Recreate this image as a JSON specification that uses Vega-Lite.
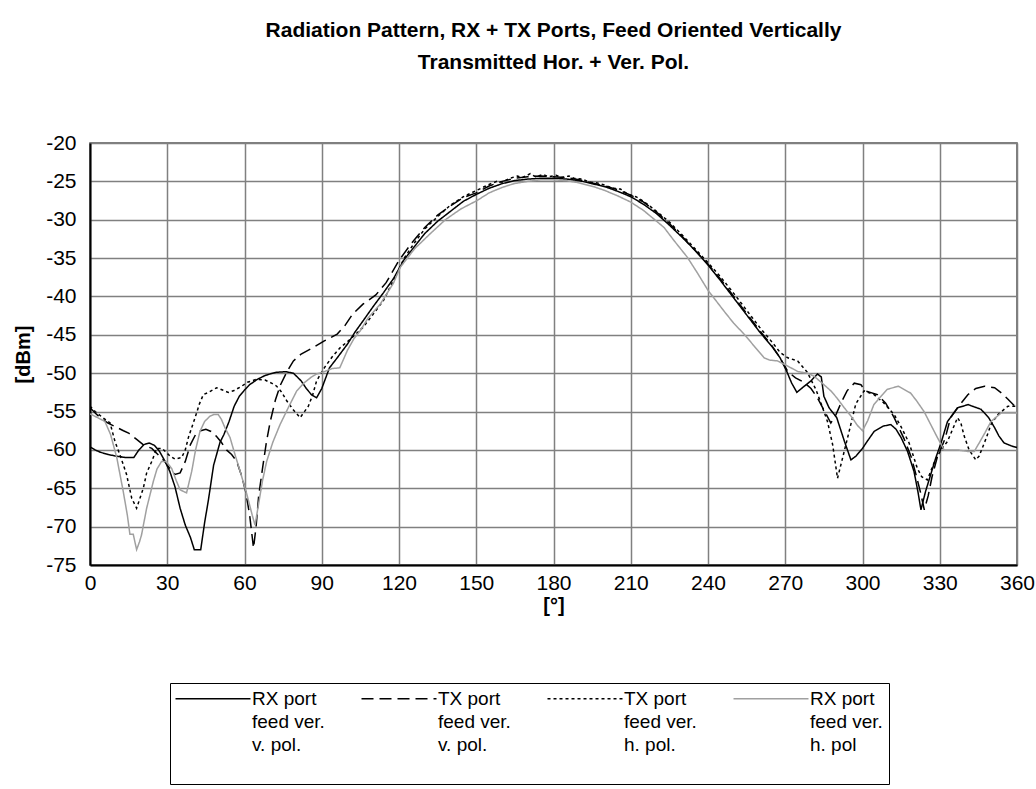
{
  "$schema": "https://vega.github.io/schema/vega-lite/v6.json",
  "width": 927,
  "height": 422,
  "autosize": "none",
  "padding": {"left": 90, "top": 143, "right": 19, "bottom": 224},
  "background": "white",
  "config": {
    "font": "Liberation Sans",
    "view": {"stroke": "#555555", "strokeWidth": 1.5},
    "style": {"guide-label": {"lineHeight": 23}},
    "legend": {
      "orient": "none", "legendX": 80, "legendY": 540, "direction": "horizontal", "columns": 4,
      "title": null, "symbolType": "M-2,0H13", "symbolSize": 100,
      "labelFont": "Liberation Sans", "labelFontSize": 19, "labelColor": "black", "labelLimit": 300,
      "labelOffset": 57, "labelBaseline": "middle",
      "strokeColor": "black", "padding": 6, "columnPadding": 33
    }
  },
  "title": {
    "text": ["Radiation Pattern, RX + TX Ports, Feed Oriented Vertically", "Transmitted Hor. + Ver. Pol."],
    "anchor": "middle",
    "font": "Liberation Sans",
    "fontSize": 21,
    "fontWeight": "bold",
    "color": "black",
    "lineHeight": 32,
    "offset": 59
  },
  "data": {"values": [
{"s":"A","a":0,"v":-59.6},{"s":"A","a":2,"v":-60.0},{"s":"A","a":4,"v":-60.3},{"s":"A","a":7,"v":-60.6},{"s":"A","a":10,"v":-60.8},{"s":"A","a":14,"v":-61.0},{"s":"A","a":17,"v":-61.0},{"s":"A","a":19,"v":-60.0},{"s":"A","a":21,"v":-59.3},{"s":"A","a":23,"v":-59.1},{"s":"A","a":25,"v":-59.4},{"s":"A","a":27,"v":-60.2},{"s":"A","a":29,"v":-61.4},{"s":"A","a":31,"v":-62.8},{"s":"A","a":33,"v":-64.8},{"s":"A","a":35,"v":-67.6},{"s":"A","a":37,"v":-69.8},{"s":"A","a":39,"v":-71.4},{"s":"A","a":40.5,"v":-73.0},{"s":"A","a":43,"v":-73.0},{"s":"A","a":44.5,"v":-69.5},{"s":"A","a":46,"v":-66.5},{"s":"A","a":48,"v":-62.0},{"s":"A","a":50.5,"v":-59.0},{"s":"A","a":52,"v":-58.0},{"s":"A","a":54,"v":-56.3},{"s":"A","a":56,"v":-54.3},{"s":"A","a":58,"v":-53.0},{"s":"A","a":60,"v":-52.2},{"s":"A","a":62,"v":-51.5},{"s":"A","a":65,"v":-50.8},{"s":"A","a":68,"v":-50.3},{"s":"A","a":72,"v":-49.9},{"s":"A","a":76,"v":-49.8},{"s":"A","a":79,"v":-50.0},{"s":"A","a":82,"v":-51.0},{"s":"A","a":84,"v":-52.0},{"s":"A","a":86,"v":-52.8},{"s":"A","a":88,"v":-53.2},{"s":"A","a":90,"v":-52.0},{"s":"A","a":93,"v":-49.3},{"s":"A","a":96,"v":-48.0},{"s":"A","a":100,"v":-46.2},{"s":"A","a":103,"v":-44.6},{"s":"A","a":106,"v":-43.2},{"s":"A","a":110,"v":-41.3},{"s":"A","a":114,"v":-39.5},{"s":"A","a":118,"v":-37.6},{"s":"A","a":122,"v":-35.2},{"s":"A","a":126,"v":-33.5},{"s":"A","a":130,"v":-31.8},{"s":"A","a":135,"v":-30.2},{"s":"A","a":140,"v":-28.9},{"s":"A","a":145,"v":-27.6},{"s":"A","a":150,"v":-26.7},{"s":"A","a":155,"v":-25.9},{"s":"A","a":160,"v":-25.3},{"s":"A","a":165,"v":-24.9},{"s":"A","a":170,"v":-24.7},{"s":"A","a":175,"v":-24.6},{"s":"A","a":180,"v":-24.6},{"s":"A","a":185,"v":-24.7},{"s":"A","a":190,"v":-24.9},{"s":"A","a":195,"v":-25.3},{"s":"A","a":200,"v":-25.7},{"s":"A","a":205,"v":-26.3},{"s":"A","a":210,"v":-27.0},{"s":"A","a":215,"v":-28.0},{"s":"A","a":220,"v":-29.2},{"s":"A","a":225,"v":-30.7},{"s":"A","a":230,"v":-32.3},{"s":"A","a":235,"v":-34.0},{"s":"A","a":240,"v":-35.9},{"s":"A","a":245,"v":-38.0},{"s":"A","a":250,"v":-40.2},{"s":"A","a":255,"v":-42.4},{"s":"A","a":260,"v":-44.6},{"s":"A","a":265,"v":-46.6},{"s":"A","a":268,"v":-48.0},{"s":"A","a":270.5,"v":-49.7},{"s":"A","a":272.5,"v":-51.3},{"s":"A","a":274.5,"v":-52.5},{"s":"A","a":277,"v":-51.8},{"s":"A","a":280,"v":-51.0},{"s":"A","a":282.5,"v":-50.1},{"s":"A","a":284,"v":-50.5},{"s":"A","a":285,"v":-53.0},{"s":"A","a":287,"v":-54.5},{"s":"A","a":290,"v":-55.8},{"s":"A","a":293,"v":-58.9},{"s":"A","a":295.5,"v":-61.3},{"s":"A","a":297.5,"v":-60.8},{"s":"A","a":300,"v":-59.8},{"s":"A","a":302,"v":-58.8},{"s":"A","a":304.5,"v":-57.6},{"s":"A","a":308,"v":-56.9},{"s":"A","a":311,"v":-56.7},{"s":"A","a":313,"v":-57.3},{"s":"A","a":315,"v":-58.4},{"s":"A","a":317.5,"v":-60.2},{"s":"A","a":320,"v":-62.8},{"s":"A","a":321.5,"v":-65.4},{"s":"A","a":322.7,"v":-67.8},{"s":"A","a":324.5,"v":-65.4},{"s":"A","a":326.5,"v":-63.2},{"s":"A","a":328.5,"v":-61.0},{"s":"A","a":330.5,"v":-59.1},{"s":"A","a":333,"v":-56.3},{"s":"A","a":337,"v":-54.5},{"s":"A","a":341,"v":-54.1},{"s":"A","a":346,"v":-54.7},{"s":"A","a":349,"v":-55.8},{"s":"A","a":351.3,"v":-57.1},{"s":"A","a":353,"v":-58.2},{"s":"A","a":355,"v":-59.1},{"s":"A","a":358,"v":-59.5},{"s":"A","a":360,"v":-59.7},
{"s":"B","a":0,"v":-54.5},{"s":"B","a":2,"v":-55.2},{"s":"B","a":4,"v":-55.8},{"s":"B","a":7,"v":-56.5},{"s":"B","a":10,"v":-57.0},{"s":"B","a":13,"v":-57.5},{"s":"B","a":15,"v":-57.8},{"s":"B","a":18,"v":-58.6},{"s":"B","a":21,"v":-59.4},{"s":"B","a":24,"v":-59.8},{"s":"B","a":27,"v":-60.8},{"s":"B","a":29,"v":-61.5},{"s":"B","a":31,"v":-62.4},{"s":"B","a":33,"v":-63.2},{"s":"B","a":35,"v":-63.0},{"s":"B","a":37,"v":-61.5},{"s":"B","a":39,"v":-59.3},{"s":"B","a":41,"v":-58.0},{"s":"B","a":43,"v":-57.5},{"s":"B","a":45,"v":-57.3},{"s":"B","a":47,"v":-57.6},{"s":"B","a":49,"v":-58.2},{"s":"B","a":51,"v":-59.0},{"s":"B","a":53,"v":-60.0},{"s":"B","a":55,"v":-60.6},{"s":"B","a":57,"v":-61.5},{"s":"B","a":59,"v":-63.5},{"s":"B","a":60.5,"v":-65.5},{"s":"B","a":62,"v":-68.5},{"s":"B","a":63.5,"v":-72.8},{"s":"B","a":64.5,"v":-70.0},{"s":"B","a":65.5,"v":-66.0},{"s":"B","a":67,"v":-62.4},{"s":"B","a":68.5,"v":-59.0},{"s":"B","a":70,"v":-56.3},{"s":"B","a":72,"v":-53.5},{"s":"B","a":74,"v":-51.5},{"s":"B","a":76.5,"v":-49.8},{"s":"B","a":79,"v":-48.4},{"s":"B","a":82,"v":-47.5},{"s":"B","a":86.5,"v":-46.7},{"s":"B","a":91,"v":-45.8},{"s":"B","a":96,"v":-44.9},{"s":"B","a":99,"v":-43.8},{"s":"B","a":102,"v":-42.3},{"s":"B","a":106,"v":-41.0},{"s":"B","a":111,"v":-39.8},{"s":"B","a":115,"v":-38.2},{"s":"B","a":120,"v":-35.3},{"s":"B","a":125,"v":-33.0},{"s":"B","a":130,"v":-31.0},{"s":"B","a":135,"v":-29.4},{"s":"B","a":140,"v":-28.2},{"s":"B","a":145,"v":-27.1},{"s":"B","a":150,"v":-26.5},{"s":"B","a":155,"v":-25.6},{"s":"B","a":160,"v":-25.0},{"s":"B","a":165,"v":-24.6},{"s":"B","a":170,"v":-24.4},{"s":"B","a":175,"v":-24.3},{"s":"B","a":180,"v":-24.4},{"s":"B","a":185,"v":-24.5},{"s":"B","a":190,"v":-24.8},{"s":"B","a":195,"v":-25.2},{"s":"B","a":200,"v":-25.6},{"s":"B","a":205,"v":-26.1},{"s":"B","a":210,"v":-26.8},{"s":"B","a":215,"v":-27.7},{"s":"B","a":220,"v":-29.0},{"s":"B","a":225,"v":-30.5},{"s":"B","a":230,"v":-32.2},{"s":"B","a":235,"v":-34.0},{"s":"B","a":240,"v":-35.8},{"s":"B","a":245,"v":-37.8},{"s":"B","a":250,"v":-40.0},{"s":"B","a":255,"v":-42.2},{"s":"B","a":260,"v":-44.4},{"s":"B","a":265,"v":-46.5},{"s":"B","a":268,"v":-48.0},{"s":"B","a":271,"v":-49.8},{"s":"B","a":274,"v":-50.6},{"s":"B","a":277.3,"v":-51.2},{"s":"B","a":280,"v":-52.0},{"s":"B","a":282.5,"v":-53.2},{"s":"B","a":285,"v":-54.8},{"s":"B","a":287.7,"v":-56.5},{"s":"B","a":289.7,"v":-55.4},{"s":"B","a":291.5,"v":-54.0},{"s":"B","a":294,"v":-52.3},{"s":"B","a":296.8,"v":-51.3},{"s":"B","a":299.4,"v":-51.5},{"s":"B","a":301,"v":-52.3},{"s":"B","a":303,"v":-52.5},{"s":"B","a":305.8,"v":-52.8},{"s":"B","a":309,"v":-53.9},{"s":"B","a":312.3,"v":-55.8},{"s":"B","a":316.2,"v":-58.6},{"s":"B","a":319,"v":-61.0},{"s":"B","a":321,"v":-63.5},{"s":"B","a":322.5,"v":-65.5},{"s":"B","a":324,"v":-67.8},{"s":"B","a":325.5,"v":-66.0},{"s":"B","a":327,"v":-63.5},{"s":"B","a":329,"v":-61.0},{"s":"B","a":332,"v":-58.6},{"s":"B","a":334.2,"v":-55.8},{"s":"B","a":336.9,"v":-54.5},{"s":"B","a":340.9,"v":-52.8},{"s":"B","a":344,"v":-52.0},{"s":"B","a":347.4,"v":-51.7},{"s":"B","a":351.3,"v":-51.9},{"s":"B","a":354,"v":-52.6},{"s":"B","a":356.5,"v":-53.4},{"s":"B","a":360,"v":-54.6},
{"s":"C","a":0,"v":-54.3},{"s":"C","a":2,"v":-55.0},{"s":"C","a":5,"v":-55.8},{"s":"C","a":7.8,"v":-56.5},{"s":"C","a":9.7,"v":-58.9},{"s":"C","a":12,"v":-61.0},{"s":"C","a":14.2,"v":-63.2},{"s":"C","a":16.2,"v":-66.3},{"s":"C","a":18.1,"v":-67.6},{"s":"C","a":20.7,"v":-65.0},{"s":"C","a":22,"v":-63.0},{"s":"C","a":24,"v":-61.5},{"s":"C","a":25.9,"v":-59.8},{"s":"C","a":28,"v":-59.8},{"s":"C","a":31.1,"v":-60.8},{"s":"C","a":33,"v":-61.2},{"s":"C","a":35.6,"v":-61.0},{"s":"C","a":37,"v":-60.0},{"s":"C","a":38.2,"v":-58.4},{"s":"C","a":40.8,"v":-55.8},{"s":"C","a":42.5,"v":-54.0},{"s":"C","a":44,"v":-52.8},{"s":"C","a":46,"v":-52.5},{"s":"C","a":49.2,"v":-51.9},{"s":"C","a":51.5,"v":-52.2},{"s":"C","a":53.7,"v":-52.5},{"s":"C","a":55.7,"v":-52.3},{"s":"C","a":58.9,"v":-51.7},{"s":"C","a":61,"v":-51.2},{"s":"C","a":64.7,"v":-50.8},{"s":"C","a":68,"v":-50.9},{"s":"C","a":70.5,"v":-51.3},{"s":"C","a":72.5,"v":-51.7},{"s":"C","a":74.5,"v":-52.5},{"s":"C","a":76.4,"v":-53.6},{"s":"C","a":79,"v":-54.8},{"s":"C","a":81.6,"v":-55.8},{"s":"C","a":84.8,"v":-54.3},{"s":"C","a":86.5,"v":-52.8},{"s":"C","a":88,"v":-51.0},{"s":"C","a":91,"v":-49.3},{"s":"C","a":94,"v":-47.9},{"s":"C","a":97.1,"v":-46.7},{"s":"C","a":101,"v":-45.6},{"s":"C","a":106.1,"v":-44.0},{"s":"C","a":110,"v":-42.3},{"s":"C","a":114,"v":-40.5},{"s":"C","a":118,"v":-37.8},{"s":"C","a":122,"v":-35.0},{"s":"C","a":126,"v":-33.0},{"s":"C","a":130,"v":-31.2},{"s":"C","a":135,"v":-29.6},{"s":"C","a":140,"v":-28.1},{"s":"C","a":145,"v":-27.0},{"s":"C","a":150,"v":-26.2},{"s":"C","a":155,"v":-25.4},{"s":"C","a":158,"v":-25.0},{"s":"C","a":160,"v":-25.1},{"s":"C","a":163,"v":-24.6},{"s":"C","a":166,"v":-24.3},{"s":"C","a":168,"v":-24.5},{"s":"C","a":171,"v":-24.0},{"s":"C","a":173,"v":-24.4},{"s":"C","a":176,"v":-24.1},{"s":"C","a":178,"v":-24.4},{"s":"C","a":181,"v":-24.2},{"s":"C","a":183,"v":-24.5},{"s":"C","a":186,"v":-24.3},{"s":"C","a":188,"v":-24.6},{"s":"C","a":191,"v":-24.7},{"s":"C","a":194,"v":-25.1},{"s":"C","a":197,"v":-25.2},{"s":"C","a":200,"v":-25.5},{"s":"C","a":203,"v":-25.9},{"s":"C","a":206,"v":-26.0},{"s":"C","a":209,"v":-26.7},{"s":"C","a":212,"v":-27.0},{"s":"C","a":215,"v":-27.6},{"s":"C","a":220,"v":-28.9},{"s":"C","a":225,"v":-30.3},{"s":"C","a":230,"v":-32.0},{"s":"C","a":235,"v":-33.8},{"s":"C","a":240,"v":-35.6},{"s":"C","a":245,"v":-37.5},{"s":"C","a":250,"v":-39.6},{"s":"C","a":255,"v":-41.8},{"s":"C","a":260,"v":-44.0},{"s":"C","a":265,"v":-46.0},{"s":"C","a":268,"v":-47.3},{"s":"C","a":271,"v":-48.0},{"s":"C","a":274.8,"v":-48.4},{"s":"C","a":278.6,"v":-49.9},{"s":"C","a":282,"v":-52.2},{"s":"C","a":284.5,"v":-54.5},{"s":"C","a":286.4,"v":-56.3},{"s":"C","a":288.4,"v":-59.3},{"s":"C","a":290.3,"v":-63.7},{"s":"C","a":292.3,"v":-61.0},{"s":"C","a":294.8,"v":-57.6},{"s":"C","a":297.4,"v":-54.0},{"s":"C","a":300.6,"v":-52.3},{"s":"C","a":304.5,"v":-52.8},{"s":"C","a":308,"v":-53.8},{"s":"C","a":312.3,"v":-55.4},{"s":"C","a":315,"v":-57.0},{"s":"C","a":318.1,"v":-59.1},{"s":"C","a":321.3,"v":-62.4},{"s":"C","a":323,"v":-63.5},{"s":"C","a":325.2,"v":-63.9},{"s":"C","a":328,"v":-61.5},{"s":"C","a":330.5,"v":-60.0},{"s":"C","a":333,"v":-58.9},{"s":"C","a":336.9,"v":-55.8},{"s":"C","a":338.2,"v":-56.5},{"s":"C","a":339.5,"v":-58.2},{"s":"C","a":341.4,"v":-60.0},{"s":"C","a":344,"v":-61.3},{"s":"C","a":345.3,"v":-60.8},{"s":"C","a":348,"v":-58.5},{"s":"C","a":350,"v":-56.6},{"s":"C","a":352.6,"v":-55.4},{"s":"C","a":356.5,"v":-54.3},{"s":"C","a":360,"v":-54.3},
{"s":"D","a":0,"v":-55.3},{"s":"D","a":3,"v":-55.8},{"s":"D","a":5.8,"v":-56.3},{"s":"D","a":8,"v":-58.0},{"s":"D","a":10.4,"v":-61.0},{"s":"D","a":12.9,"v":-65.4},{"s":"D","a":14.5,"v":-68.5},{"s":"D","a":15.5,"v":-71.0},{"s":"D","a":16.8,"v":-71.0},{"s":"D","a":18.1,"v":-73.0},{"s":"D","a":19.2,"v":-72.0},{"s":"D","a":20,"v":-71.1},{"s":"D","a":22,"v":-67.6},{"s":"D","a":24.6,"v":-64.1},{"s":"D","a":26,"v":-62.5},{"s":"D","a":27.8,"v":-61.5},{"s":"D","a":29.5,"v":-61.5},{"s":"D","a":31.7,"v":-62.4},{"s":"D","a":33.5,"v":-64.0},{"s":"D","a":35,"v":-65.2},{"s":"D","a":37.5,"v":-65.6},{"s":"D","a":39.5,"v":-62.8},{"s":"D","a":41,"v":-60.0},{"s":"D","a":42.7,"v":-57.6},{"s":"D","a":44.5,"v":-56.3},{"s":"D","a":46.6,"v":-55.6},{"s":"D","a":48,"v":-55.4},{"s":"D","a":49.8,"v":-55.4},{"s":"D","a":51,"v":-56.0},{"s":"D","a":52.4,"v":-57.1},{"s":"D","a":54.4,"v":-58.4},{"s":"D","a":56.3,"v":-60.6},{"s":"D","a":58.5,"v":-63.0},{"s":"D","a":61,"v":-65.9},{"s":"D","a":63,"v":-68.5},{"s":"D","a":64.1,"v":-69.8},{"s":"D","a":65.5,"v":-67.0},{"s":"D","a":67,"v":-64.0},{"s":"D","a":68.6,"v":-61.5},{"s":"D","a":71,"v":-59.0},{"s":"D","a":73.8,"v":-56.7},{"s":"D","a":77,"v":-54.5},{"s":"D","a":80.3,"v":-52.3},{"s":"D","a":83,"v":-51.3},{"s":"D","a":86,"v":-50.5},{"s":"D","a":88,"v":-50.1},{"s":"D","a":91,"v":-49.8},{"s":"D","a":94,"v":-49.4},{"s":"D","a":97,"v":-49.3},{"s":"D","a":100,"v":-47.0},{"s":"D","a":102.5,"v":-45.5},{"s":"D","a":104.9,"v":-44.5},{"s":"D","a":108,"v":-42.8},{"s":"D","a":112.7,"v":-41.0},{"s":"D","a":117.8,"v":-38.3},{"s":"D","a":120.5,"v":-36.2},{"s":"D","a":126,"v":-33.8},{"s":"D","a":132.2,"v":-31.8},{"s":"D","a":138,"v":-30.0},{"s":"D","a":144,"v":-28.6},{"s":"D","a":150.3,"v":-27.5},{"s":"D","a":155,"v":-26.5},{"s":"D","a":160,"v":-25.8},{"s":"D","a":164.6,"v":-25.3},{"s":"D","a":170,"v":-25.0},{"s":"D","a":175,"v":-24.8},{"s":"D","a":180,"v":-24.8},{"s":"D","a":185,"v":-24.9},{"s":"D","a":190,"v":-25.2},{"s":"D","a":195.7,"v":-25.7},{"s":"D","a":200,"v":-26.2},{"s":"D","a":205,"v":-26.9},{"s":"D","a":210,"v":-27.7},{"s":"D","a":215,"v":-28.8},{"s":"D","a":222.9,"v":-31.0},{"s":"D","a":227,"v":-32.8},{"s":"D","a":232,"v":-34.9},{"s":"D","a":236,"v":-37.0},{"s":"D","a":240,"v":-39.2},{"s":"D","a":246.2,"v":-41.9},{"s":"D","a":250,"v":-43.5},{"s":"D","a":254,"v":-44.9},{"s":"D","a":258,"v":-46.5},{"s":"D","a":261.8,"v":-48.0},{"s":"D","a":264,"v":-48.3},{"s":"D","a":267,"v":-48.4},{"s":"D","a":270,"v":-48.9},{"s":"D","a":272.2,"v":-49.3},{"s":"D","a":275,"v":-49.8},{"s":"D","a":278.6,"v":-50.0},{"s":"D","a":281.2,"v":-50.4},{"s":"D","a":284,"v":-51.2},{"s":"D","a":287.7,"v":-52.3},{"s":"D","a":290,"v":-53.2},{"s":"D","a":292.9,"v":-54.5},{"s":"D","a":296,"v":-55.8},{"s":"D","a":298,"v":-56.8},{"s":"D","a":300,"v":-57.5},{"s":"D","a":302,"v":-56.2},{"s":"D","a":304.4,"v":-54.1},{"s":"D","a":307.2,"v":-53.0},{"s":"D","a":309.6,"v":-52.1},{"s":"D","a":314,"v":-51.7},{"s":"D","a":318.7,"v":-52.6},{"s":"D","a":321,"v":-53.6},{"s":"D","a":323.9,"v":-55.0},{"s":"D","a":326.5,"v":-56.7},{"s":"D","a":329.1,"v":-58.4},{"s":"D","a":331.7,"v":-60.0},{"s":"D","a":336.9,"v":-60.0},{"s":"D","a":340.9,"v":-60.2},{"s":"D","a":343.4,"v":-60.2},{"s":"D","a":345.3,"v":-59.1},{"s":"D","a":347.5,"v":-57.8},{"s":"D","a":349.9,"v":-56.3},{"s":"D","a":353.8,"v":-55.2},{"s":"D","a":357,"v":-55.2},{"s":"D","a":360,"v":-55.2}
  ]},
  "mark": {"type": "line", "clip": true},
  "encoding": {
    "x": {
      "field": "a", "type": "quantitative",
      "scale": {"domain": [0, 360], "nice": false, "zero": false},
      "axis": {
        "values": [0, 30, 60, 90, 120, 150, 180, 210, 240, 270, 300, 330, 360],
        "title": "[°]", "grid": true, "gridColor": "#808080", "gridWidth": 1.5,
        "domainColor": "black", "domainWidth": 2, "ticks": false,
        "labelExpr": "toString(datum.value)",
        "labelFont": "Liberation Sans", "labelFontSize": 21, "labelColor": "black",
        "labelPadding": 7, "labelFlush": false,
        "titleFont": "Liberation Sans", "titleFontSize": 20, "titleFontWeight": "bold",
        "titleColor": "black", "titlePadding": 2
      }
    },
    "y": {
      "field": "v", "type": "quantitative",
      "scale": {"domain": [-75, -20], "nice": false, "zero": false},
      "axis": {
        "values": [-75, -70, -65, -60, -55, -50, -45, -40, -35, -30, -25, -20],
        "title": "[dBm]", "grid": true, "gridColor": "#808080", "gridWidth": 1.5,
        "domainColor": "black", "domainWidth": 2, "ticks": false,
        "labelExpr": "toString(datum.value)",
        "labelFont": "Liberation Sans", "labelFontSize": 21, "labelColor": "black",
        "labelPadding": 14, "labelFlush": false,
        "titleFont": "Liberation Sans", "titleFontSize": 20, "titleFontWeight": "bold",
        "titleColor": "black", "titlePadding": 12
      }
    },
    "color": {
      "field": "s", "type": "nominal",
      "scale": {"domain": ["A", "B", "C", "D"], "range": ["#000000", "#000000", "#000000", "#a0a0a0"]},
      "legend": {
        "labelExpr": "datum.label == 'A' ? ['RX port', 'feed ver.', 'v. pol.', ' '] : datum.label == 'B' ? ['TX port', 'feed ver.', 'v. pol.', ' '] : datum.label == 'C' ? ['TX port', 'feed ver.', 'h. pol.', ' '] : ['RX port', 'feed ver.', 'h. pol', ' ']"
      }
    },
    "strokeDash": {
      "field": "s", "type": "nominal",
      "scale": {"domain": ["A", "B", "C", "D"], "range": [[1, 0], [12, 6], [3, 3], [1, 0]]},
      "legend": {
        "labelExpr": "datum.label == 'A' ? ['RX port', 'feed ver.', 'v. pol.', ' '] : datum.label == 'B' ? ['TX port', 'feed ver.', 'v. pol.', ' '] : datum.label == 'C' ? ['TX port', 'feed ver.', 'h. pol.', ' '] : ['RX port', 'feed ver.', 'h. pol', ' ']"
      }
    },
    "strokeWidth": {
      "field": "s", "type": "nominal",
      "scale": {"domain": ["A", "B", "C", "D"], "range": [1.5, 1.5, 2.5, 1.5]},
      "legend": {
        "labelExpr": "datum.label == 'A' ? ['RX port', 'feed ver.', 'v. pol.', ' '] : datum.label == 'B' ? ['TX port', 'feed ver.', 'v. pol.', ' '] : datum.label == 'C' ? ['TX port', 'feed ver.', 'h. pol.', ' '] : ['RX port', 'feed ver.', 'h. pol', ' ']"
      }
    }
  }
}
